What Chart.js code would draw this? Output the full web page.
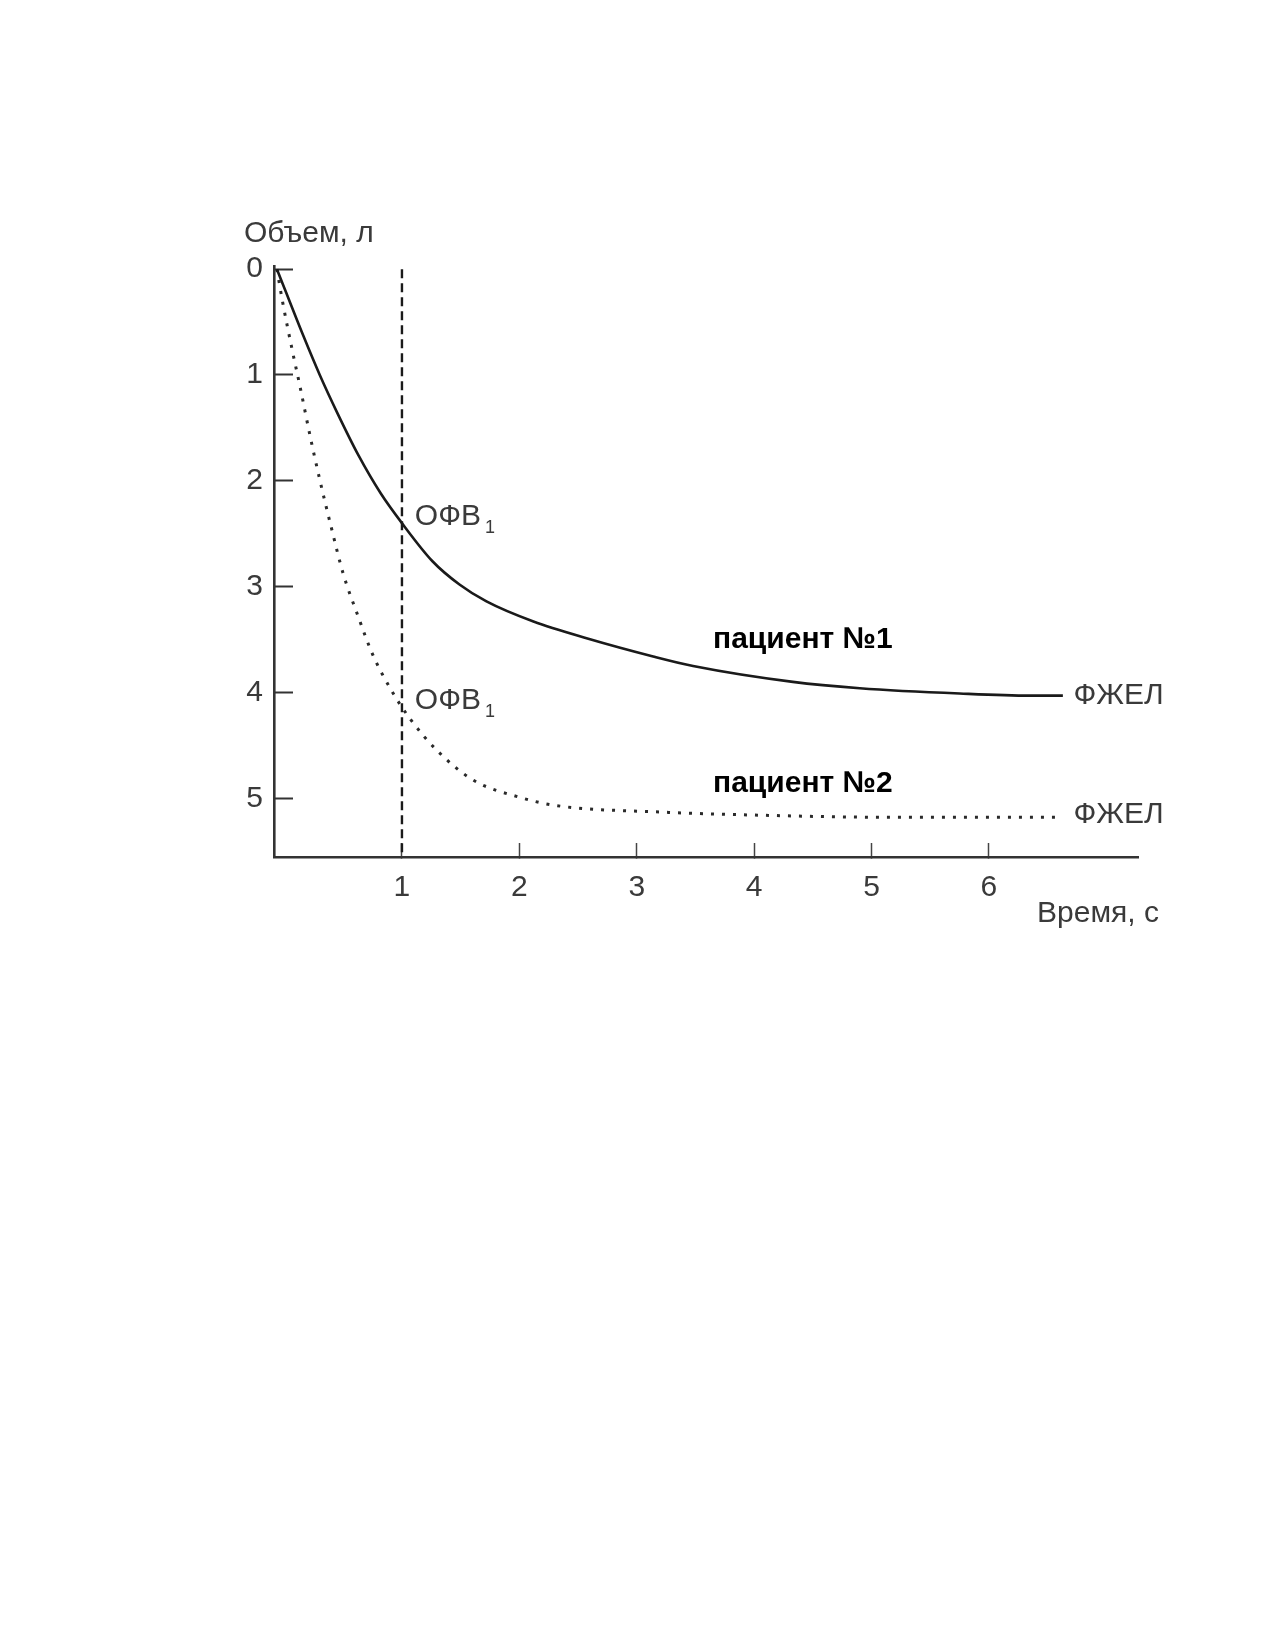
<!DOCTYPE html>
<html>
<head>
<meta charset="utf-8">
<script src="https://cdn.jsdelivr.net/npm/chart.js@4"></script>
<style>
html,body{margin:0;padding:0;background:#fff;}
#wrap{position:relative;width:1275px;height:1650px;}
</style>
</head>
<body>
<div id="wrap"><canvas id="c" width="1275" height="1650"></canvas></div>
<script>
// ---- data (time in s, volume in L) ----
const patient1Time   = [-0.065, 0.16, 0.30, 0.45, 0.63, 0.82, 1.00, 1.26, 1.49, 1.72, 2.12, 2.58, 3.14, 3.48, 4.33, 4.90, 5.75, 6.35, 6.63];
const patient1Volume = [0.00, 0.63, 1.00, 1.36, 1.76, 2.12, 2.40, 2.76, 2.98, 3.14, 3.33, 3.49, 3.66, 3.75, 3.90, 3.96, 4.01, 4.03, 4.03];
const patient2Time   = [-0.065, -0.02, 0.07, 0.13, 0.22, 0.30, 0.40, 0.50, 0.62, 0.75, 0.91, 1.07, 1.30, 1.61, 2.00, 2.32, 3.20, 4.05, 5.18, 6.32, 6.60];
const patient2Volume = [0.00, 0.29, 0.79, 1.10, 1.59, 1.99, 2.45, 2.88, 3.26, 3.64, 3.98, 4.25, 4.55, 4.83, 4.99, 5.07, 5.13, 5.16, 5.18, 5.18, 5.18];
const markerTime = [1, 1];
const markerVolume = [0, 5.555];
const xTickLabels = ['1','2','3','4','5','6'];
const yTickLabels = ['0','1','2','3','4','5'];
const seriesNames = ['пациент №1', 'пациент №2'];
const endLabel = 'ФЖЕЛ';
const fevLabel = 'ОФВ';
const yTitle = 'Объем, л';
const xTitle = 'Время, с';

const toXY = (xs, ys) => xs.map((x, i) => ({x, y: ys[i]}));
const FONT = '"Liberation Sans", Arial, sans-serif';
const TXT = '#3a3a3a';
const FS = 30;

const annot = {
  id: 'annot',
  afterDraw(chart) {
    const {ctx, scales: {x, y}} = chart;
    ctx.save();
    ctx.textBaseline = 'middle';
    ctx.textAlign = 'left';
    // axis titles
    ctx.fillStyle = TXT;
    ctx.font = FS + 'px ' + FONT;
    ctx.fillText(yTitle, 244, 234);
    ctx.fillText(xTitle, 1037, 914);
    // FEV1 labels
    const fev = (yv) => {
      const px = x.getPixelForValue(1.11), py = y.getPixelForValue(yv);
      ctx.font = FS + 'px ' + FONT;
      ctx.fillText(fevLabel, px, py);
      const w = ctx.measureText(fevLabel).width;
      ctx.font = '18px ' + FONT;
      ctx.fillText('1', px + w + 4, py + 11);
    };
    fev(2.34);
    fev(4.08);
    // FVC labels
    ctx.font = FS + 'px ' + FONT;
    ctx.fillText(endLabel, x.getPixelForValue(6.72), y.getPixelForValue(patient1Volume[patient1Volume.length-1]));
    ctx.fillText(endLabel, x.getPixelForValue(6.72), y.getPixelForValue(patient2Volume[patient2Volume.length-1] - 0.02));
    // series names
    ctx.fillStyle = '#000';
    ctx.font = 'bold 30px ' + FONT;
    ctx.fillText(seriesNames[0], x.getPixelForValue(3.65), y.getPixelForValue(3.50));
    ctx.fillText(seriesNames[1], x.getPixelForValue(3.65), y.getPixelForValue(4.86));
    ctx.restore();
  }
};

new Chart(document.getElementById('c'), {
  type: 'scatter',
  data: {
    datasets: [
      {label: seriesNames[0], data: toXY(patient1Time, patient1Volume), showLine: true,
       borderColor: '#1a1a1a', borderWidth: 2.6, pointRadius: 0, cubicInterpolationMode: 'monotone', fill: false},
      {label: seriesNames[1], data: toXY(patient2Time, patient2Volume), showLine: true,
       borderColor: '#2a2a2a', borderWidth: 3, borderDash: [3, 8], borderCapStyle: 'butt',
       pointRadius: 0, cubicInterpolationMode: 'monotone', fill: false},
      {label: 'marker', data: toXY(markerTime, markerVolume), showLine: true,
       borderColor: '#1a1a1a', borderWidth: 2.4, borderDash: [9, 5], pointRadius: 0, fill: false}
    ]
  },
  options: {
    responsive: false,
    animation: false,
    events: [],
    layout: {padding: {left: 0, top: 266, right: 137, bottom: 0}},
    plugins: {legend: {display: false}, tooltip: {enabled: false}},
    scales: {
      x: {
        type: 'linear', min: -0.09, max: 7.27,
        afterFit: s => { s.height = 1650 - 857; },
        border: {display: true, color: '#333', width: 2.6},
        grid: {drawOnChartArea: false, drawTicks: true, tickLength: -14, tickWidth: 1.5,
               tickColor: c => (c.tick && c.tick.value >= 1 && c.tick.value <= 6) ? '#444' : 'rgba(0,0,0,0)'},
        ticks: {stepSize: 1, includeBounds: false, padding: 27, maxRotation: 0, autoSkip: false,
                color: TXT, font: {family: FONT, size: FS},
                callback: v => (v >= 1 && v <= 6) ? xTickLabels[v - 1] : ''}
      },
      y: {
        type: 'linear', reverse: true, min: -0.03, max: 5.555,
        afterFit: s => { s.width = 274; },
        border: {display: true, color: '#333', width: 2.6},
        grid: {drawOnChartArea: false, drawTicks: true, tickLength: -19, tickWidth: 2, tickColor: '#333'},
        ticks: {stepSize: 1, includeBounds: false, padding: 30, autoSkip: false,
                color: TXT, font: {family: FONT, size: FS},
                callback: v => (v >= 0 && v <= 5) ? yTickLabels[v] : ''}
      }
    }
  },
  plugins: [annot]
});
</script>
</body>
</html>
